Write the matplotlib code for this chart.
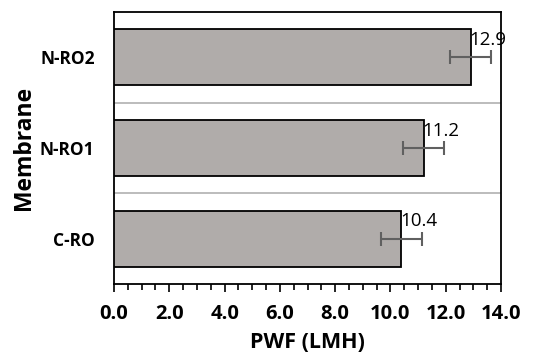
import matplotlib
matplotlib.use("Agg")
import matplotlib.pyplot as plt
from matplotlib.ticker import MultipleLocator, FormatStrFormatter

categories = ["C-RO", "N-RO1", "N-RO2"]
values = [10.4, 11.2, 12.9]
errors = [0.75, 0.73, 0.74]
x_ticks = [0, 2, 4, 6, 8, 10, 12, 14]

plt.rcParams['font.family'] = ['Open Sans', 'DejaVu Sans']

fig = plt.figure(figsize=(5.48, 3.56), dpi=100)
ax = fig.add_axes([114/548, 1 - 284/356, (501-114)/548, (284-12)/356])

ypos = list(range(len(categories)))
ax.barh(ypos, values, height=0.62, color="#b0acaa", edgecolor="black", linewidth=1.3, zorder=3)
ax.errorbar(values, ypos, xerr=errors, fmt='none', ecolor="#606060", elinewidth=1.5,
            capsize=5, capthick=1.5, zorder=4)
for v, y in zip(values, ypos):
    ax.annotate(f"{v:.1f}", (v, y), xytext=(-1, 6), textcoords="offset points",
                fontsize=13.5, ha="left", va="bottom", zorder=5, annotation_clip=False)

ax.set_ylim(-0.5, 2.5)
ax.set_xlim(0, 14)
ax.set_yticks(ypos)
ax.set_yticklabels(categories, fontsize=12.5, fontweight="bold")
ax.set_xticks(x_ticks)
ax.xaxis.set_major_formatter(FormatStrFormatter("%.1f"))
ax.xaxis.set_minor_locator(MultipleLocator(0.5))
for lbl in ax.get_xticklabels():
    lbl.set_fontweight("bold")
    lbl.set_fontsize(14.5)
ax.tick_params(axis='y', length=0, pad=14)
ax.tick_params(axis='x', which='major', length=6, width=1.2, direction='out', pad=8.5)
ax.tick_params(axis='x', which='minor', length=4, width=1.2, direction='out')

ax.set_yticks([0.5, 1.5], minor=True)
ax.tick_params(axis='y', which='minor', length=0)
ax.grid(axis='y', which='minor', color="#b0b0b0", linewidth=1.2, zorder=0)

for s in ax.spines.values():
    s.set_linewidth(1.3)
    s.set_color("black")

ax.set_xlabel("PWF (LMH)", fontsize=15.5, fontweight="bold", labelpad=6)
ax.set_ylabel("Membrane", fontsize=16.5, fontweight="bold", labelpad=3)

fig.savefig("out.png", dpi=100)
